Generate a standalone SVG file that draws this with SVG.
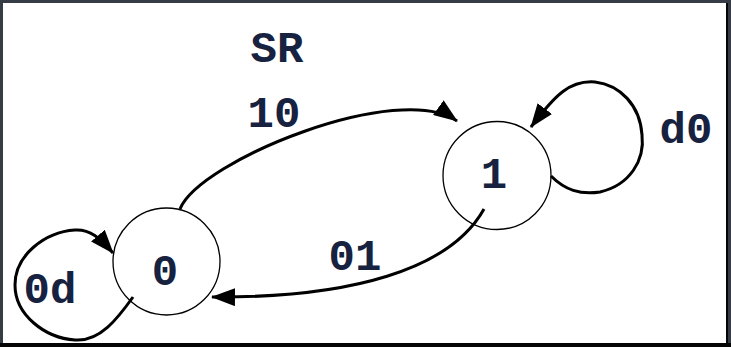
<svg xmlns="http://www.w3.org/2000/svg" width="731" height="347" viewBox="0 0 731 347">
<style>
.state{fill:#fff;stroke:#000;stroke-width:1.3}
.edge{fill:none;stroke:#000;stroke-width:3;marker-end:url(#ah)}
.lbl{font-family:"Liberation Mono","Courier New",monospace;font-weight:bold;font-size:44px;fill:#16223f;text-anchor:middle}
</style>
<defs>
<marker id="ah" viewBox="0 0 24 18" markerWidth="24" markerHeight="18" refX="23" refY="9" orient="auto" markerUnits="userSpaceOnUse">
<path d="M0,0 L24,9 L0,18 z" fill="#000"/>
</marker>
</defs>
<rect x="0" y="0" width="731" height="347" fill="#353c46"/>
<rect x="3" y="3" width="723" height="340" fill="#fff"/>
<rect x="0" y="343" width="731" height="4" fill="#050505"/>
<rect x="726" y="3" width="2" height="344" fill="#050505"/>
<g id="state0">
<circle class="state" cx="166.5" cy="261.5" r="53.5"/>
<text class="lbl" x="165" y="285">0</text>
</g>
<g id="state1">
<circle class="state" cx="497" cy="175.5" r="54"/>
<text class="lbl" x="494" y="188">1</text>
</g>
<g id="edges">
<path class="edge" d="M180,209 C200,160 400,80 457,121"/>
<path class="edge" d="M484,209 C450,270 350,298 212,297"/>
<path class="edge" d="M133,297 C118,318 100,342 75,340 C45,338 15,315 15,285 C15,255 45,232 75,230 C90,229 100,238 113,253"/>
<path class="edge" d="M551,176 C565,190 580,195 600,192 C630,185 645,160 642,135 C640,105 620,85 595,82 C570,80 555,95 531,127"/>
</g>
<g id="labels">
<text class="lbl" x="277" y="62">SR</text>
<text class="lbl" x="274" y="127">10</text>
<text class="lbl" x="355" y="270">01</text>
<text class="lbl" x="50" y="303">0d</text>
<text class="lbl" x="686" y="143">d0</text>
</g>
</svg>
